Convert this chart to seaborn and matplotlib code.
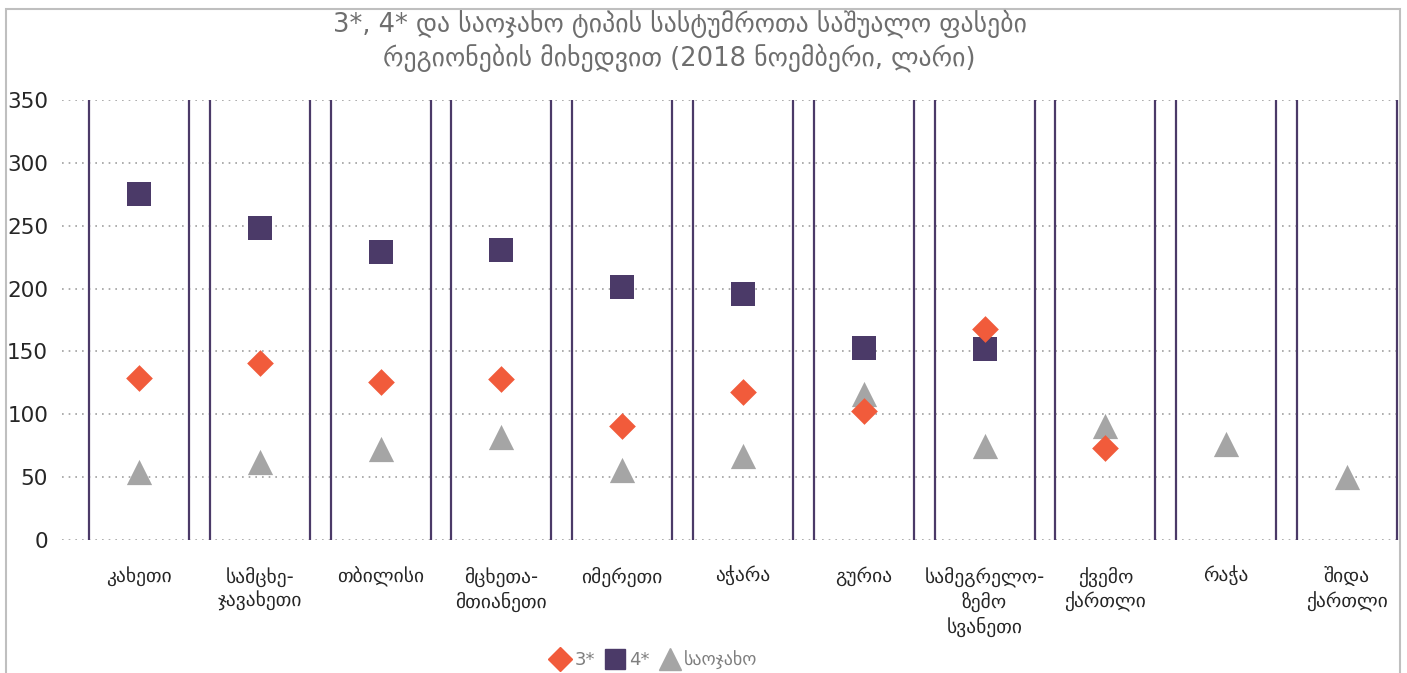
import numpy as np
import pandas as pd
import seaborn as sns
import matplotlib.pyplot as plt
from matplotlib.lines import Line2D
from matplotlib.patches import Rectangle

# რეგიონები და ფასები (ლარი)
regions = ['კახეთი', 'სამცხე-\nჯავახეთი', 'თბილისი', 'მცხეთა-\nმთიანეთი', 'იმერეთი', 'აჭარა',
           'გურია', 'სამეგრელო-\nზემო\nსვანეთი', 'ქვემო\nქართლი', 'რაჭა', 'შიდა\nქართლი']
price_3 = [129, 141, 126, 128, 91, 118, 103, 168, 73, np.nan, np.nan]
price_4 = [275, 248, 229, 231, 201, 196, 153, 152, np.nan, np.nan, np.nan]
price_family = [54, 62, 72, 82, 56, 67, 116, 75, 91, 76, 50]
y_ticks = [0, 50, 100, 150, 200, 250, 300, 350]

title = '3*, 4* და საოჯახო ტიპის სასტუმროთა საშუალო ფასები\nრეგიონების მიხედვით (2018 ნოემბერი, ლარი)'

purple = '#4B3A68'
orange = '#F15B3B'
grey = '#A5A5A5'

df = pd.DataFrame({'pos': np.arange(len(regions)), 'p3': price_3, 'p4': price_4, 'pf': price_family})

sns.set_theme(style='white')
plt.rcParams['font.family'] = ['DejaVu Sans']

fig = plt.figure(figsize=(14.07, 6.73), dpi=100)
ax = fig.add_axes([62 / 1407, 133 / 673, 1338 / 1407, 440 / 673])

# ჩარჩო
fig.patches.append(Rectangle((6 / 1407, -0.1), 1394 / 1407, 1.1 - 9 / 673, transform=fig.transFigure,
                             fill=False, edgecolor='#BFBFBF', linewidth=1.5))

# ვერტიკალური ხაზები კატეგორიების გარშემო
half = 0.414
ax.vlines(df['pos'] - half, 0, 350, color=purple, linewidth=1.6, zorder=2)
ax.vlines(df['pos'] + half, 0, 350, color=purple, linewidth=1.6, zorder=2)

sns.scatterplot(data=df, x='pos', y='p4', marker='s', s=295, color=purple, linewidth=0, ax=ax, zorder=3)
sns.scatterplot(data=df, x='pos', y='pf', marker='^', s=330, color=grey, linewidth=0, ax=ax, zorder=3)
sns.scatterplot(data=df, x='pos', y='p3', marker='D', s=185, color=orange, linewidth=0, ax=ax, zorder=4)

ax.set_xlim(-0.637, 10.439)
ax.set_ylim(0, 350)
ax.set_yticks(y_ticks)
ax.set_xticks(df['pos'])
ax.set_xticklabels(regions, fontsize=14, linespacing=1.3, va='top')
ax.tick_params(axis='y', labelsize=15.5, pad=10, length=0)
ax.tick_params(axis='x', pad=19, length=0)
ax.set_xlabel('')
ax.set_ylabel('')
ax.grid(axis='y', linestyle=(0, (1, 3)), color='#A0A0A0', linewidth=1.2)
ax.grid(axis='x', visible=False)
for s in ax.spines.values():
    s.set_visible(False)

fig.text(0.483, 1 - 41 / 673, title, ha='center', va='center', fontsize=18.5, color='#6E6E6E', linespacing=1.25)

handles = [Line2D([], [], marker='D', color=orange, linestyle='none', markersize=12),
           Line2D([], [], marker='s', color=purple, linestyle='none', markersize=14),
           Line2D([], [], marker='^', color=grey, linestyle='none', markersize=16)]
fig.legend(handles, ['3*', '4*', 'საოჯახო'], loc='center', bbox_to_anchor=(0.465, 13 / 673), ncol=3,
           frameon=False, fontsize=13, labelcolor='#7F7F7F', handletextpad=0.3, columnspacing=0.6,
           handlelength=1.0)

fig.savefig('out.png', dpi=100)
